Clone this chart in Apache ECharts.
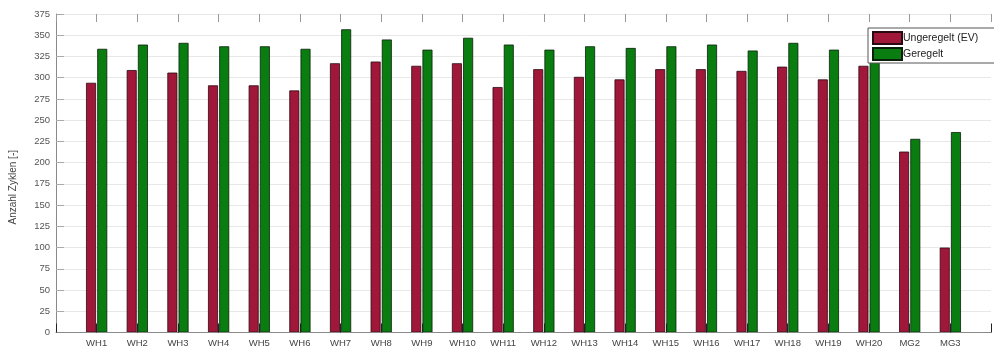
<!DOCTYPE html>
<html>
<head>
<meta charset="utf-8">
<script src="https://cdn.jsdelivr.net/npm/echarts@6/dist/echarts.min.js"></script>
<style>
  html, body { margin: 0; padding: 0; background: #fff; }
  #chart { width: 994px; height: 352px; }
</style>
</head>
<body>
<div id="chart"></div>
<script>
// Cycle counts per storage unit
const categories = ['WH1', 'WH2', 'WH3', 'WH4', 'WH5', 'WH6', 'WH7', 'WH8', 'WH9', 'WH10',
  'WH11', 'WH12', 'WH13', 'WH14', 'WH15', 'WH16', 'WH17', 'WH18', 'WH19', 'WH20', 'MG2', 'MG3'];
const ungeregelt = [294, 309, 306, 291, 291, 285, 317, 319, 314, 317,
  289, 310, 301, 298, 310, 310, 308, 313, 298, 314, 213, 100];
const geregelt = [334, 339, 341, 337, 337, 334, 357, 345, 333, 347,
  339, 333, 337, 335, 337, 339, 332, 341, 333, 337, 228, 236];
const yTicks = [0, 25, 50, 75, 100, 125, 150, 175, 200, 225, 250, 275, 300, 325, 350, 375];

// Axis runs from slot 0 to slot 23, with the units on slots 1..22
const slots = [''].concat(categories, ['']);
const pad = arr => [null].concat(arr, [null]);

const chart = echarts.init(document.getElementById('chart'), null, { renderer: 'canvas' });
const font = 'Liberation Sans, Arial, sans-serif';

chart.setOption({
  animation: false,
  backgroundColor: '#ffffff',
  grid: { left: 54, right: -10, top: 14, bottom: 19.5, containLabel: false },
  legend: {
    orient: 'vertical',
    left: 868, top: 28,
    itemWidth: 29, itemHeight: 12, itemGap: 2,
    padding: [3, 30, 2, 4],
    borderColor: '#555', borderWidth: 1,
    backgroundColor: '#ffffff',
    icon: 'rect',
    textStyle: { fontFamily: font, fontSize: 10.5, color: '#222', padding: [0, 0, 0, -4] },
    data: ['Ungeregelt (EV)', 'Geregelt']
  },
  xAxis: [{
    type: 'category',
    data: slots,
    boundaryGap: false,
    z: 3,
    axisLine: { lineStyle: { color: '#8a8a8a', width: 1 } },
    axisTick: { inside: true, length: 9, interval: 0, lineStyle: { color: '#222' } },
    axisLabel: { interval: 0, margin: 6, fontFamily: font, fontSize: 9.5, color: '#444' },
    splitLine: { show: false }
  }, {
    type: 'category',
    data: slots,
    boundaryGap: false,
    position: 'top',
    axisLine: { show: false },
    axisTick: { inside: true, length: 8, interval: 0, lineStyle: { color: '#999' } },
    axisLabel: { show: false },
    splitLine: { show: false }
  }],
  yAxis: {
    type: 'value',
    min: yTicks[0], max: yTicks[yTicks.length - 1], interval: 25,
    name: 'Anzahl Zyklen [-]',
    nameLocation: 'middle', nameRotate: 90, nameGap: 38,
    nameTextStyle: { fontFamily: font, fontSize: 10, color: '#444', padding: [0, 28, 0, 0] },
    axisLine: { show: true, lineStyle: { color: '#8a8a8a', width: 1 } },
    axisTick: { show: true, inside: true, length: 8, lineStyle: { color: '#aaa' } },
    axisLabel: { margin: 6, fontFamily: font, fontSize: 9.5, color: '#555' },
    splitLine: { show: true, lineStyle: { color: '#e8e8e8', width: 1 } }
  },
  series: [{
    name: 'Ungeregelt (EV)',
    type: 'bar',
    data: pad(ungeregelt),
    barWidth: 10,
    barGap: '12%',
    itemStyle: { color: '#a0173a', borderColor: '#2a0a10', borderWidth: 0.8 }
  }, {
    name: 'Geregelt',
    type: 'bar',
    data: pad(geregelt),
    barWidth: 10,
    itemStyle: { color: '#0a7d10', borderColor: '#0a200a', borderWidth: 0.8 }
  }]
});
</script>
</body>
</html>
